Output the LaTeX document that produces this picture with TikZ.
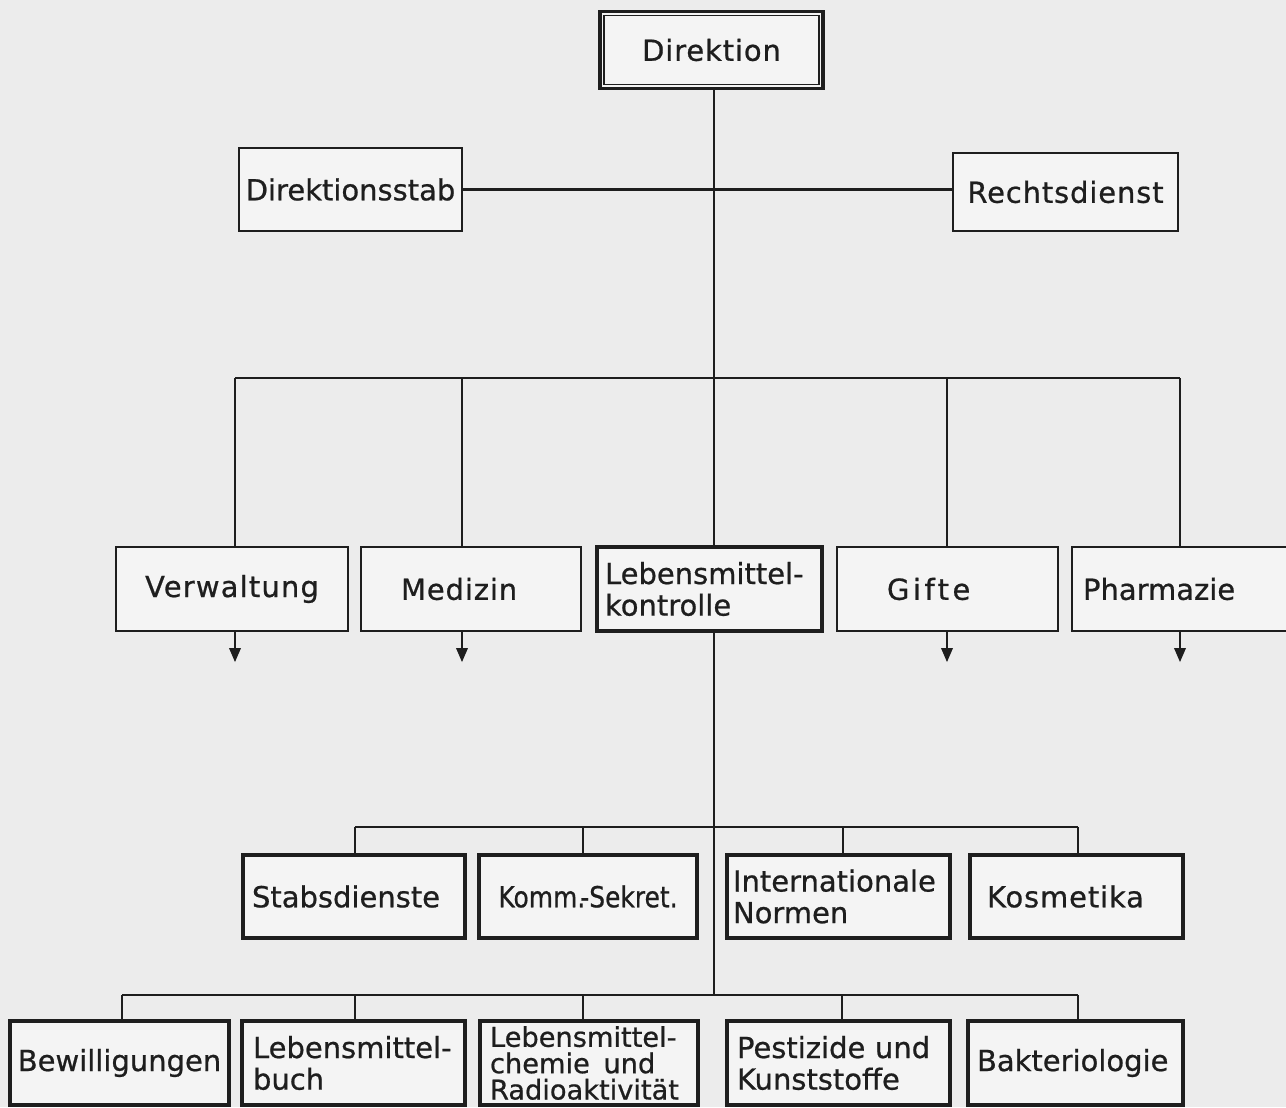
\documentclass[tikz,border=0pt]{standalone}
\usepackage{fontspec}
\setmainfont{DejaVu Sans}[FakeBold=0.7]
\usetikzlibrary{arrows.meta}
\definecolor{bg}{HTML}{ECECEC}
\definecolor{boxfill}{HTML}{F4F4F4}
\definecolor{ink}{HTML}{1E1E1E}
\begin{document}
\begin{tikzpicture}[x=0.02cm,y=-0.02cm,
  font=\fontsize{16.5}{18}\selectfont,
  every node/.style={text=ink},
  conn/.style={draw=ink,line width=1.2pt},
  arr/.style={conn,-{Triangle[length=8pt,width=6.5pt]}},
  box/.style={draw=ink,fill=boxfill,inner ysep=0pt,inner xsep=0pt,align=center},
  thinbox/.style={box,line width=1.3pt,minimum height=1.68cm},
  midbox/.style={box,line width=1.5pt},
  thickbox/.style={box,line width=2pt,minimum height=1.68cm},
  lefttext/.style 2 args={align=left,inner xsep=#1,text width=#2}
]
\useasboundingbox (0,0) rectangle (1286,1107);
\fill[bg] (0,0) rectangle (1286,1107);
\clip (0,0) rectangle (1286,1107);

% top level
\node[box,line width=2.1pt,minimum width=4.46cm,minimum height=1.54cm] (dir) at (711.5,50) {\addfontfeature{LetterSpace=3}Direktion};
\draw[ink,line width=0.9pt] ([shift={(6,-6)}]dir.south west) rectangle ([shift={(-6,6)}]dir.north east);

\node[midbox,minimum width=4.46cm,minimum height=1.66cm] (dstab) at (350.5,189.5) {Direktionsstab};
\node[midbox,minimum width=4.5cm,minimum height=1.56cm] (rdienst) at (1065.5,192) {\addfontfeature{LetterSpace=3}Rechtsdienst};

% second level
\node[thinbox,minimum width=4.64cm] (verw) at (232,589) {\addfontfeature{LetterSpace=4}Verwaltung};
\node[thinbox,minimum width=4.4cm,lefttext={0.8cm}{2.8cm}] (med) at (471,589) {\addfontfeature{LetterSpace=3}Medizin};
\node[thickbox,minimum width=4.5cm,lefttext={0.16cm}{4.18cm}] (lmk) at (709.5,589) {Lebensmittel-\\kontrolle};
\node[thinbox,minimum width=4.42cm,lefttext={1.0cm}{2.42cm}] (gifte) at (947.5,589) {\addfontfeature{LetterSpace=12}Gifte};
\node[thinbox,minimum width=4.56cm,lefttext={0.22cm}{4.12cm}] (pharm) at (1186,589) {Pharmazie};

% third level
\node[thickbox,minimum height=1.66cm,minimum width=4.44cm,lefttext={0.18cm}{4.08cm}] (stabs) at (354,896.5) {Stabsdienste};
\node[thickbox,minimum height=1.66cm,minimum width=4.36cm] (komm) at (588,896.5) {\scalebox{0.86}[1]{Komm.\kern-0.2em-Sekret.}};
\node[thickbox,minimum height=1.66cm,minimum width=4.46cm,lefttext={0.12cm}{4.22cm}] (intn) at (838.5,896.5) {Internationale\\Normen};
\node[thickbox,minimum height=1.66cm,minimum width=4.26cm,lefttext={0.34cm}{3.58cm}] (kosm) at (1076.5,896.5) {\addfontfeature{LetterSpace=3}Kosmetika};

% fourth level
\node[thickbox,minimum width=4.38cm] (bew) at (119.5,1063) {Bewilligungen};
\node[thickbox,minimum width=4.46cm,lefttext={0.22cm}{4.02cm}] (lmb) at (353.5,1063) {Lebensmittel-\\buch};
\node[thickbox,minimum width=4.36cm,lefttext={0.2cm}{3.96cm},font=\fontsize{15.5}{15}\selectfont] (lmc) at (589,1063) {Lebensmittel-\\chemie\enspace und\\Radioaktivität};
\node[thickbox,minimum width=4.46cm,lefttext={0.2cm}{4.06cm}] (pest) at (838.5,1063) {Pestizide und\\Kunststoffe};
\node[thickbox,minimum width=4.3cm,lefttext={0.18cm}{3.94cm}] (bakt) at (1075.5,1063) {Bakteriologie};

% coordinates of the trunk and buses
\coordinate (tx) at (714,0);
\coordinate (b2a) at (235,378);
\coordinate (b2b) at (462,378);
\coordinate (b2c) at (947,378);
\coordinate (b2d) at (1180,378);
\coordinate (b3a) at (355,827);
\coordinate (b3b) at (583,827);
\coordinate (b3c) at (843,827);
\coordinate (b3d) at (1078,827);
\coordinate (b4a) at (122,995);
\coordinate (b4b) at (355,995);
\coordinate (b4c) at (583,995);
\coordinate (b4d) at (842,995);
\coordinate (b4e) at (1078,995);
\coordinate (t4) at (714,995);

% trunk
\draw[conn] (dir.south -| tx) -- (lmk.north -| tx);
\draw[conn] (lmk.south -| tx) -- (t4);
% staff line
\draw[conn] (dstab.east) -- (dstab.east -| rdienst.west);
% bus 2
\draw[conn] (b2a) -- (b2d);
\draw[conn] (b2a) -- (b2a |- verw.north);
\draw[conn] (b2b) -- (b2b |- med.north);
\draw[conn] (b2c) -- (b2c |- gifte.north);
\draw[conn] (b2d) -- (b2d |- pharm.north);
% arrows
\draw[arr] (b2a |- verw.south) -- ++(0,30);
\draw[arr] (b2b |- med.south) -- ++(0,30);
\draw[arr] (b2c |- gifte.south) -- ++(0,30);
\draw[arr] (b2d |- pharm.south) -- ++(0,30);
% bus 3
\draw[conn] (b3a) -- (b3d);
\draw[conn] (b3a) -- (b3a |- stabs.north);
\draw[conn] (b3b) -- (b3b |- komm.north);
\draw[conn] (b3c) -- (b3c |- intn.north);
\draw[conn] (b3d) -- (b3d |- kosm.north);
% bus 4
\draw[conn] (b4a) -- (b4e);
\draw[conn] (b4a) -- (b4a |- bew.north);
\draw[conn] (b4b) -- (b4b |- lmb.north);
\draw[conn] (b4c) -- (b4c |- lmc.north);
\draw[conn] (b4d) -- (b4d |- pest.north);
\draw[conn] (b4e) -- (b4e |- bakt.north);
\end{tikzpicture}
\end{document}
